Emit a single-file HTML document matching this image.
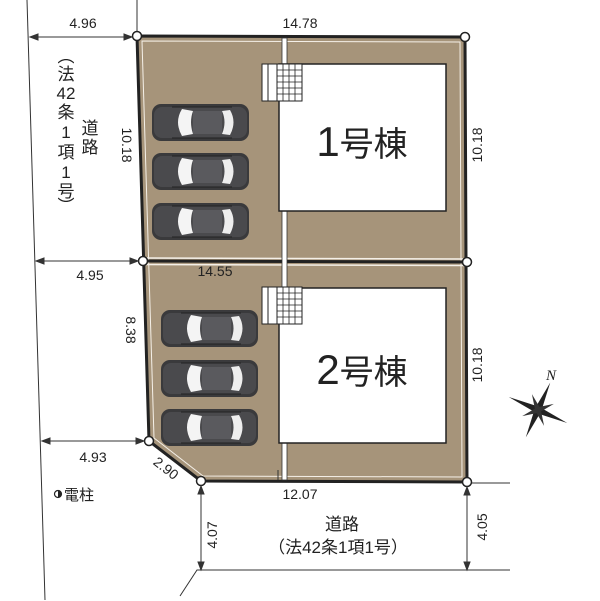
<!DOCTYPE html>
<html><head><meta charset="utf-8"><style>
html,body{margin:0;padding:0;background:#fff;}
svg{display:block;}
text{font-family:"Liberation Sans","Noto Sans CJK JP",sans-serif;fill:#222;}
</style></head><body>
<svg width="600" height="601" viewBox="0 0 600 601" xmlns="http://www.w3.org/2000/svg">
<defs>
<g id="car">
<rect x="0" y="0" width="97" height="37" rx="9" fill="#3a3a3c"/>
<rect x="2" y="3" width="93" height="31" rx="8" fill="#4a4a4d"/>
<path d="M30 5 Q22 18 30 32 L41 30 Q37 18 41 7 Z" fill="#f4f4f4"/>
<path d="M70 7 Q75 18 70 30 L78 31 Q85 18 78 6 Z" fill="#eeeeee"/>
<rect x="41" y="7" width="29" height="23" fill="#5a5a5e"/>
<line x1="20" y1="3" x2="80" y2="3" stroke="#222" stroke-width="1"/>
<line x1="20" y1="34" x2="80" y2="34" stroke="#222" stroke-width="1"/>
</g>
<g id="stair">
<rect x="0" y="0" width="40" height="37" fill="#fff" stroke="#222" stroke-width="1"/>
<line x1="6" y1="0" x2="6" y2="37" stroke="#222"/>
<line x1="15" y1="0" x2="15" y2="37" stroke="#222"/>
<path d="M21 0V37M27 0V37M33 0V37M15 6H40M15 12H40M15 18H40M15 24H40M15 30H40" stroke="#222" stroke-width="0.8" fill="none"/>
</g>
</defs>

<line x1="27" y1="0" x2="45" y2="600" stroke="#333" stroke-width="1"/>
<line x1="137" y1="0" x2="137" y2="36" stroke="#333" stroke-width="1"/>
<path d="M180 596 L197 570 L510 570" stroke="#333" stroke-width="1" fill="none"/>
<line x1="467" y1="483" x2="510" y2="483" stroke="#333" stroke-width="1"/>

<path d="M137 36 L465 37 L467 482 L201 481 L149 441 Z" fill="#a6947a"/>
<path d="M137 36 L465 37 L467 482 L201 481 L149 441 Z" fill="none" stroke="#222" stroke-width="3"/>
<path d="M142 41 L460 42 L462 477 L203 476 L154 438 Z" fill="none" stroke="#f5f0e8" stroke-width="1"/>
<line x1="143" y1="261" x2="467" y2="262" stroke="#222" stroke-width="3"/>
<line x1="143" y1="258" x2="465" y2="259" stroke="#f5f0e8" stroke-width="1.5"/>
<line x1="143" y1="264.5" x2="465" y2="265.5" stroke="#f5f0e8" stroke-width="1.5"/>
<rect x="282" y="38" width="5" height="442" fill="#fff" stroke="#333" stroke-width="0.8"/>
<line x1="278" y1="470" x2="278" y2="480" stroke="#333"/>

<rect x="279" y="64" width="167" height="147" fill="#fff" stroke="#222" stroke-width="1.5"/>
<rect x="279" y="288" width="167" height="155" fill="#fff" stroke="#222" stroke-width="1.5"/>
<use href="#stair" x="262" y="64"/>
<use href="#stair" x="262" y="287"/>
<text x="362" y="156" font-size="42" text-anchor="middle">1<tspan font-size="34">号棟</tspan></text>
<text x="362" y="384" font-size="42" text-anchor="middle">2<tspan font-size="34">号棟</tspan></text>

<use href="#car" x="152" y="104"/>
<use href="#car" x="152" y="153"/>
<use href="#car" x="152" y="203"/>
<use href="#car" x="161" y="310"/>
<use href="#car" x="161" y="360"/>
<use href="#car" x="161" y="409"/>

<g fill="#fff" stroke="#222" stroke-width="1.5">
<circle cx="137" cy="36" r="4.5"/><circle cx="465" cy="37" r="4.5"/>
<circle cx="143" cy="261" r="4.5"/><circle cx="467" cy="262" r="4.5"/>
<circle cx="149" cy="441" r="4.5"/><circle cx="201" cy="481" r="4.5"/>
<circle cx="467" cy="482" r="4.5"/>
</g>

<g stroke="#333" stroke-width="1" fill="#333">
<line x1="30" y1="37" x2="132" y2="37"/><path d="M30 37 l8 -3 v6z M132 37 l-8 -3 v6z"/>
<line x1="36" y1="261" x2="138" y2="261"/><path d="M36 261 l8 -3 v6z M138 261 l-8 -3 v6z"/>
<line x1="42" y1="441" x2="144" y2="441"/><path d="M42 441 l8 -3 v6z M144 441 l-8 -3 v6z"/>
<line x1="201" y1="486" x2="201" y2="570"/><path d="M201 486 l-3 8 h6z M201 570 l-3 -8 h6z"/>
<line x1="467" y1="487" x2="467" y2="570"/><path d="M467 487 l-3 8 h6z M467 570 l-3 -8 h6z"/>
</g>

<g font-size="14">
<text x="83" y="28" text-anchor="middle">4.96</text>
<text x="300" y="28" text-anchor="middle">14.78</text>
<text x="90" y="280" text-anchor="middle">4.95</text>
<text x="215" y="276" text-anchor="middle">14.55</text>
<text x="93" y="462" text-anchor="middle">4.93</text>
<text x="300" y="499" text-anchor="middle">12.07</text>
<text transform="translate(122,145) rotate(90)" text-anchor="middle">10.18</text>
<text transform="translate(126,330) rotate(90)" text-anchor="middle">8.38</text>
<text transform="translate(477,145) rotate(-90)" text-anchor="middle" dy="5">10.18</text>
<text transform="translate(477,365) rotate(-90)" text-anchor="middle" dy="5">10.18</text>
<text transform="translate(212,535) rotate(-90)" text-anchor="middle" dy="5">4.07</text>
<text transform="translate(482,527) rotate(-90)" text-anchor="middle" dy="5">4.05</text>
<text transform="translate(163,472) rotate(38)" text-anchor="middle">2.90</text>
</g>
<text x="342" y="530" font-size="17" text-anchor="middle">道路</text>
<text x="338" y="553" font-size="17" text-anchor="middle">（法42条1項1号）</text>
<g font-size="17" text-anchor="middle">
<text x="66" y="62">︵</text>
<text x="66" y="80">法</text>
<text x="66" y="99">42</text>
<text x="66" y="118">条</text>
<text x="66" y="138">1</text>
<text x="66" y="158">項</text>
<text x="66" y="178">1</text>
<text x="66" y="197">号</text>
<text x="66" y="212">︶</text>
<text x="90" y="134">道</text>
<text x="90" y="153">路</text>
</g>
<circle cx="58" cy="494" r="3.5" fill="#fff" stroke="#222" stroke-width="1.2"/>
<path d="M58 490.5 a3.5 3.5 0 0 1 0 7z" fill="#222"/>
<text x="64" y="500" font-size="15">電柱</text>

<g transform="translate(538,410) rotate(24)">
<polygon points="0,-30 3,-4 0,0 -3,-4" fill="#222"/>
<polygon points="0,30 3,4 0,0 -3,4" fill="#222"/>
<polygon points="-32,0 -4,-3 0,0 -4,3" fill="#222"/>
<polygon points="32,0 4,-3 0,0 4,3" fill="#222"/>
<polygon points="-12,-12 2,-2 -2,2" fill="#333"/>
<polygon points="12,12 2,-2 -2,2" fill="#333"/>
<polygon points="12,-12 2,2 -2,-2" fill="#333"/>
<polygon points="-12,12 2,2 -2,-2" fill="#333"/>
</g>
<text x="546" y="380" font-size="15" font-style="italic" style="font-family:'Liberation Serif',serif">N</text>
</svg>
</body></html>
